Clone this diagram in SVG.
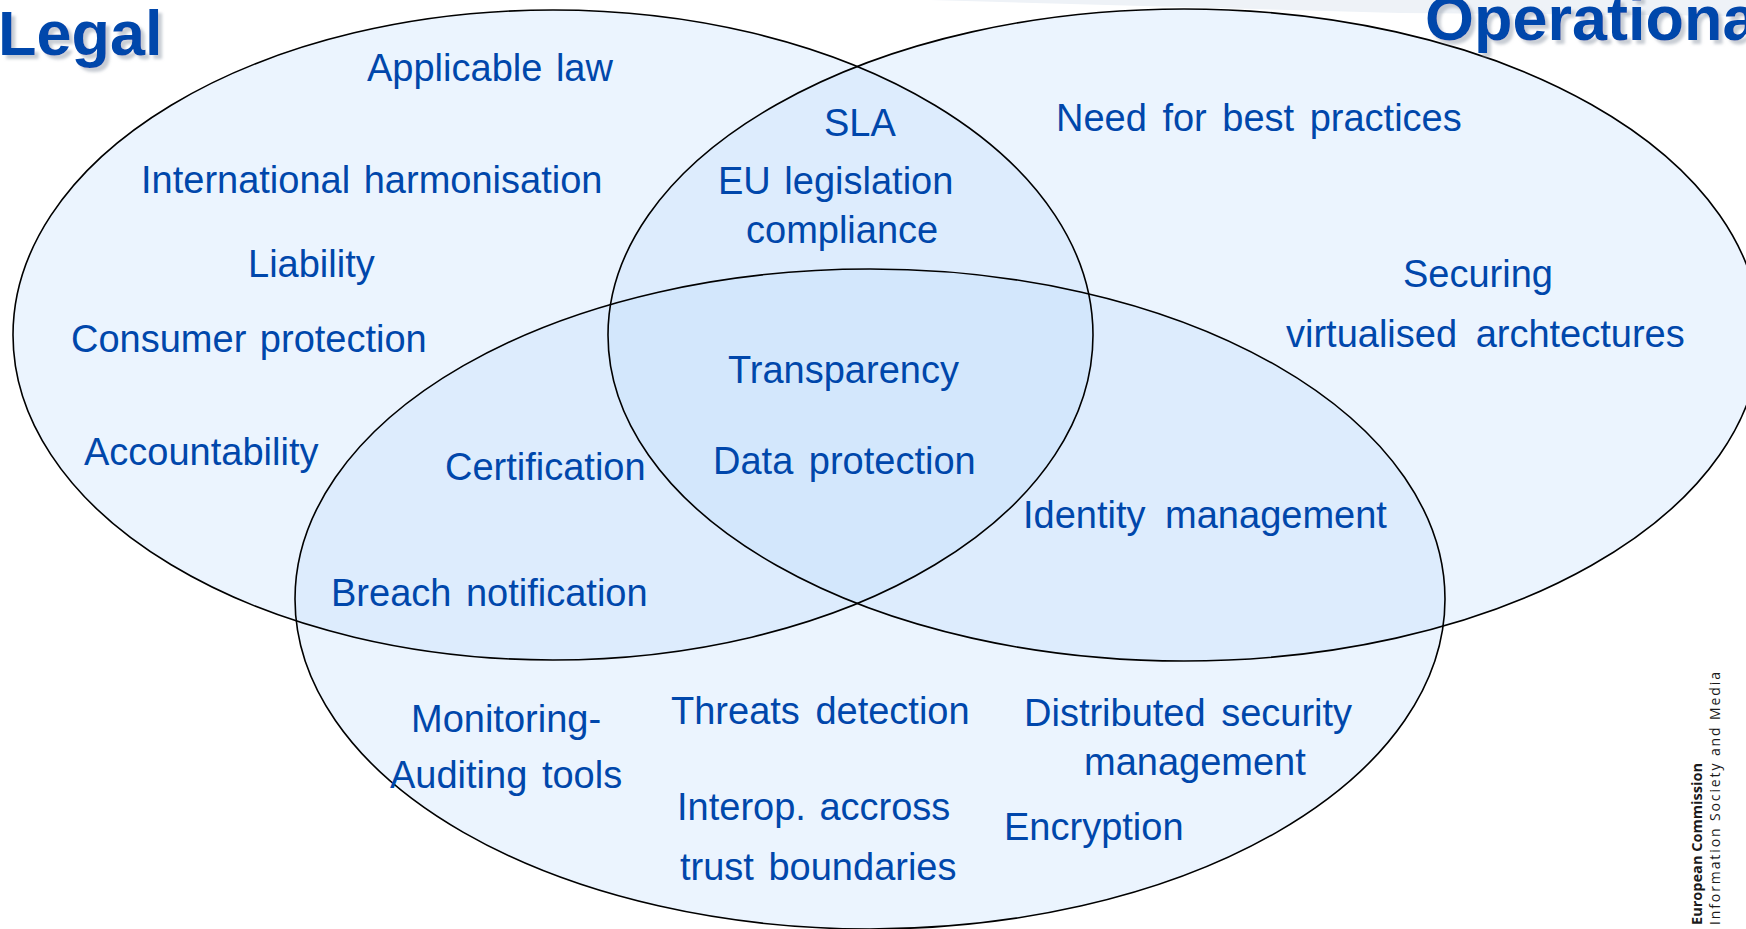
<svg xmlns="http://www.w3.org/2000/svg" width="1746" height="929" viewBox="0 0 1746 929">
<style>
.set{fill:#BCDAFC;fill-opacity:0.3;stroke:none}
.edge{fill:none;stroke:#000;stroke-width:1.6}
.lbl{font-family:"Liberation Sans",Arial,sans-serif;font-size:38px;fill:#0047AB;word-spacing:3px}
.title{font-family:"Liberation Sans",Arial,sans-serif;font-size:63px;font-weight:bold;fill:#0047AB}
.ec{font-family:"Open Sans","DejaVu Sans",sans-serif;fill:#1a1a1a}
</style>
<defs>
<filter id="shadow" x="-10%" y="-10%" width="130%" height="140%">
<feGaussianBlur in="SourceAlpha" stdDeviation="1.5"/>
<feOffset dx="4" dy="4" result="b"/>
<feFlood flood-color="#9aa3b0" flood-opacity="0.55"/>
<feComposite in2="b" operator="in"/>
<feMerge><feMergeNode/><feMergeNode in="SourceGraphic"/></feMerge>
</filter>
</defs>
<rect width="1746" height="929" fill="#fff"/>
<polygon points="930,0 1746,0 1746,16 1400,13" fill="#EEF2F7"/>

<g id="set-legal"><ellipse class="set" cx="553" cy="335" rx="540" ry="325"/></g>
<g id="set-operational"><ellipse class="set" cx="1184" cy="335" rx="576" ry="326"/></g>
<g id="set-technical"><ellipse class="set" cx="870" cy="599" rx="575" ry="330"/></g>
<g id="outlines">
<ellipse class="edge" cx="553" cy="335" rx="540" ry="325"/>
<ellipse class="edge" cx="1184" cy="335" rx="576" ry="326"/>
<ellipse class="edge" cx="870" cy="599" rx="575" ry="330"/>
</g>

<g id="title-legal"><text class="title" x="-2" y="55" filter="url(#shadow)">Legal</text></g>
<g id="title-operational"><text class="title" x="1425" y="40" filter="url(#shadow)">Operational</text></g>

<g id="n-applicable-law"><text class="lbl" x="367" y="81">Applicable law</text></g>
<g id="n-intl-harmonisation"><text class="lbl" x="141" y="193">International harmonisation</text></g>
<g id="n-liability"><text class="lbl" x="248" y="277">Liability</text></g>
<g id="n-consumer-protection"><text class="lbl" x="71" y="352">Consumer protection</text></g>
<g id="n-accountability"><text class="lbl" x="84" y="465">Accountability</text></g>

<g id="n-sla"><text class="lbl" x="824" y="136">SLA</text></g>
<g id="n-eu-legislation"><text class="lbl" x="718" y="194">EU legislation</text><text class="lbl" x="746" y="243">compliance</text></g>

<g id="n-best-practices"><text class="lbl" x="1056" y="131" style="word-spacing:5px">Need for best practices</text></g>
<g id="n-virtualised"><text class="lbl" x="1403" y="287">Securing</text><text class="lbl" x="1286" y="347" style="word-spacing:8px">virtualised archtectures</text></g>

<g id="n-transparency"><text class="lbl" x="728" y="383">Transparency</text></g>
<g id="n-data-protection"><text class="lbl" x="713" y="474" style="word-spacing:5px">Data protection</text></g>
<g id="n-certification"><text class="lbl" x="445" y="480">Certification</text></g>
<g id="n-breach"><text class="lbl" x="331" y="606" style="word-spacing:4px">Breach notification</text></g>
<g id="n-identity"><text class="lbl" x="1023" y="528" style="word-spacing:9px">Identity management</text></g>

<g id="n-monitoring"><text class="lbl" x="411" y="732">Monitoring-</text><text class="lbl" x="390" y="788" style="word-spacing:4px">Auditing tools</text></g>
<g id="n-threats"><text class="lbl" x="671" y="724" style="word-spacing:5px">Threats detection</text></g>
<g id="n-interop"><text class="lbl" x="677" y="820">Interop. accross</text><text class="lbl" x="680" y="880" style="word-spacing:4px">trust boundaries</text></g>
<g id="n-distributed"><text class="lbl" x="1024" y="726" style="word-spacing:5px">Distributed security</text><text class="lbl" x="1084" y="775">management</text></g>
<g id="n-encryption"><text class="lbl" x="1004" y="840">Encryption</text></g>

<g id="ec-logo">
<text class="ec" transform="translate(1702,925) rotate(-90)" font-size="13.5" font-weight="bold" textLength="162" lengthAdjust="spacingAndGlyphs">European Commission</text>
<text class="ec" transform="translate(1720,925) rotate(-90)" font-size="14" textLength="253" lengthAdjust="spacing">Information Society and Media</text>
</g>
</svg>
